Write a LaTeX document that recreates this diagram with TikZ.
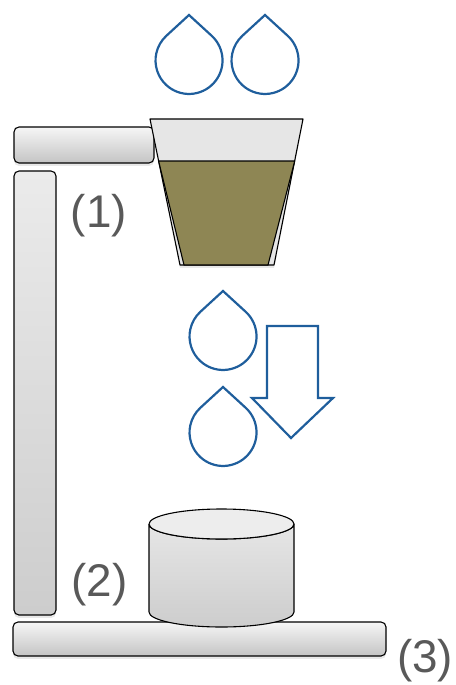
\documentclass[tikz,border=0pt]{standalone}
\usepackage{fontspec}
\setmainfont{Liberation Sans}
\usepackage{tikz}
\usetikzlibrary{shadows}
\definecolor{ink}{HTML}{1F5E9C}
\definecolor{olive}{HTML}{8E8654}
\definecolor{steel}{HTML}{C4C4C4}
\definecolor{pale}{HTML}{F6F6F6}
\definecolor{cupgrey}{HTML}{E6E6E6}
\definecolor{tag}{HTML}{595959}
\tikzset{
  bar/.style={draw=black, line width=1.1pt, rounded corners=5pt, top color=pale, bottom color=steel,
              drop shadow={opacity=0.18, shadow xshift=0pt, shadow yshift=-3pt}},
  vbar/.style={bar, top color=cupgrey!80!white, bottom color=steel!85},
  cup/.style={draw=black, line width=1.1pt, line join=round},
  dropline/.style={draw=ink, line width=2.2pt, line join=miter},
  num/.style={font=\fontsize{46}{55}\selectfont, text=tag, inner sep=0pt}
}
% water drop with its tip at (#1,#2)
\newcommand{\waterdrop}[3]{%
  \draw[dropline] (#1,#2) coordinate (#3) -- ++(22.7,20.8)
    arc[start angle=-47.4, end angle=227.4, radius=33.5] -- cycle;}

\begin{document}
\begin{tikzpicture}[x=1bp, y=-1bp]
  \useasboundingbox (0,0) rectangle (456,685);

  % stand
  \draw[vbar] (14,171) rectangle (56,615);
  \draw[bar] (14,127) rectangle (154,163);
  \draw[bar] (13,622) rectangle (386,656);

  % filter cup with coffee
  \draw[cup, fill=cupgrey, drop shadow={opacity=0.18, shadow xshift=0pt, shadow yshift=-3pt}]
    (150,119) -- (303,119) -- (274,265) -- (180,265) -- cycle;
  \draw[cup, fill=olive] (158.6,161) -- (294.7,161) -- (268,265) -- (184,265) -- cycle;

  % drops
  \waterdrop{189}{15}{d1}
  \waterdrop{265}{15}{d2}
  \waterdrop{223}{291}{d3}
  \waterdrop{223}{387}{d4}

  % flow arrow
  \draw[dropline] (267,326) -- (318,326) -- (318,398) -- (333,398) -- (291,438)
    -- (252,398) -- (267,398) -- cycle;

  % pot
  \draw[cup, top color=cupgrey, bottom color=steel!85]
    (149,524) -- (149,612) arc[start angle=180, end angle=0, x radius=72.5, y radius=15]
    -- (294,524) arc[start angle=0, end angle=180, x radius=72.5, y radius=15];
  \draw[cup, fill=cupgrey!70!white] (221.5,524) ellipse[x radius=72.5, y radius=15];

  % numbers
  \node[num] (n1) at (99,216) {(1)};
  \node[num] (n2) at (99.5,585) {(2)};
  \node[num] (n3) at (425,661) {(3)};
\end{tikzpicture}
\end{document}
